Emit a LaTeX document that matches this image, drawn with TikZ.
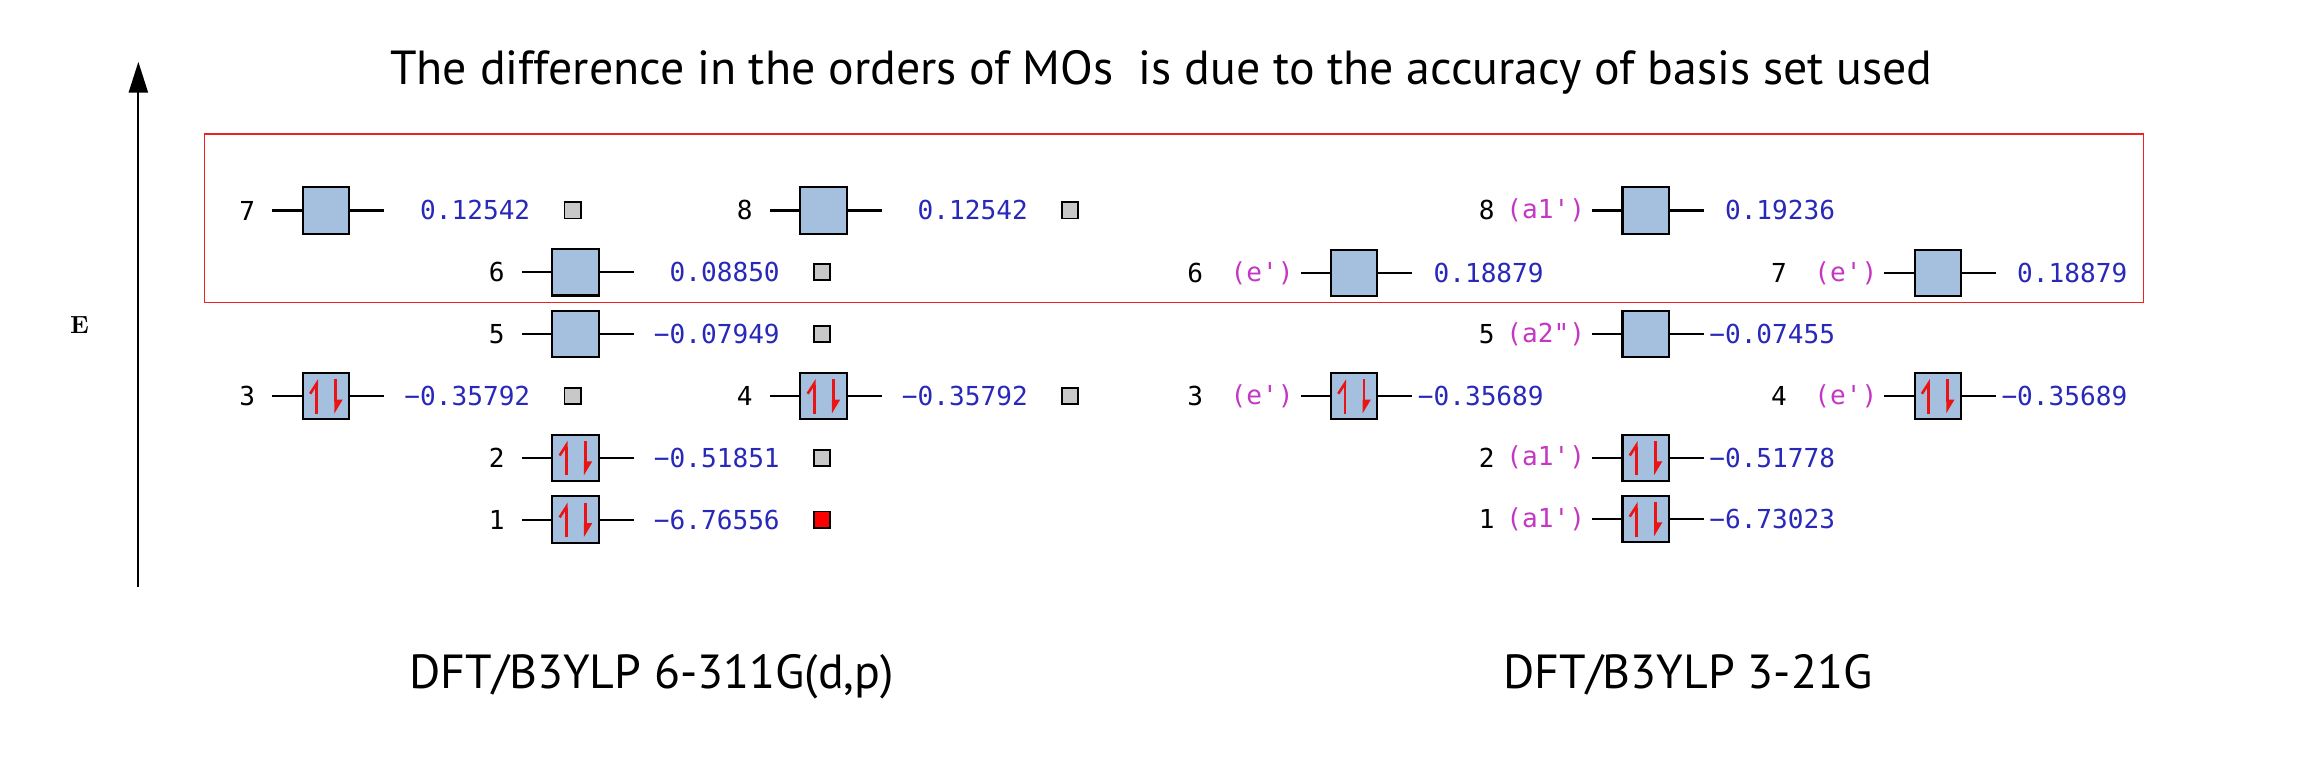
\documentclass[tikz,border=0pt]{standalone}
\usepackage{fontspec}
\newfontfamily\ttlfont{PT Sans}
\newfontfamily\mofont{DejaVu Sans Mono}
\usepackage{xcolor}
\usetikzlibrary{positioning,arrows.meta}

\definecolor{orbfill}{RGB}{164,192,222}
\definecolor{evblue}{RGB}{40,40,185}
\definecolor{symmag}{RGB}{195,55,195}
\definecolor{occgray}{RGB}{200,200,200}
\definecolor{framered}{RGB}{235,35,35}
\definecolor{spinred}{RGB}{235,20,20}

\begin{document}
\begin{tikzpicture}[x=0.02cm,y=-0.02cm,thick,
  orb/.style={draw,line width=0.8pt,fill=orbfill,minimum width=0.63cm,minimum height=0.63cm,inner sep=0pt},
  occ/.style={orb,path picture={
      \draw[spinred,line width=1pt,-{Straight Barb[left,length=0.14cm,width=0.18cm]}]
        ([xshift=-0.126cm,yshift=-0.24cm]path picture bounding box.center) -- ++(0cm,0.47cm);
      \draw[spinred,line width=1pt,-{Triangle[left,length=0.16cm,width=0.18cm]}]
        ([xshift=0.132cm,yshift=0.23cm]path picture bounding box.center) -- ++(0cm,-0.47cm);}},
  lvl/.style={line width=0.8pt},
  idx/.style={font=\mofont\fontsize{10.1}{12}\selectfont,inner sep=0pt},
  sym/.style={idx,text=symmag},
  ev/.style={idx,text=evblue,anchor=east},
  sq/.style={draw,line width=0.7pt,fill=occgray,minimum size=0.22cm,inner sep=0pt},
  ttl/.style={font=\ttlfont\fontsize{18.5}{22}\selectfont,inner sep=0pt,anchor=base},
  axis/.style={line width=0.8pt,-{Triangle[length=0.42cm,width=0.26cm]}},
  frame/.style={framered,line width=0.5pt}]

\useasboundingbox (0,0) rectangle (1568,527);

\node[ttl] (title) at (789,57.7) {The difference in the orders of MOs~ is due to the accuracy of basis set used};

% energy axis
\coordinate (etop) at (94,42);
\coordinate (ebot) at (94,399);
\draw[axis] (ebot) -- (etop);
\node[font=\bfseries\fontsize{9.6}{11}\selectfont,inner sep=0pt] (elab) at (54,221) {E};

\draw[frame] (139,91) rectangle (1456,205.5);

% 6-311G(d,p)
\node[orb] (b7) at (221.5,143) {};
\node[orb] (b8) at (559.5,143) {};
\node[orb] (b6) at (391,185) {};
\node[orb] (b5) at (391,227) {};
\node[occ] (b3) at (221.5,269) {};
\node[occ] (b4) at (559.5,269) {};
\node[occ] (b2) at (391,311) {};
\node[occ] (b1) at (391,353) {};

\draw[lvl] (b7.west) -- ++(-0.4cm,0cm) (b7.east) -- ++(0.46cm,0cm);
\draw[lvl] (b8.west) -- ++(-0.4cm,0cm) (b8.east) -- ++(0.46cm,0cm);
\draw[lvl] (b6.west) -- ++(-0.4cm,0cm) (b6.east) -- ++(0.46cm,0cm);
\draw[lvl] (b5.west) -- ++(-0.4cm,0cm) (b5.east) -- ++(0.46cm,0cm);
\draw[lvl] (b3.west) -- ++(-0.4cm,0cm) (b3.east) -- ++(0.46cm,0cm);
\draw[lvl] (b4.west) -- ++(-0.4cm,0cm) (b4.east) -- ++(0.46cm,0cm);
\draw[lvl] (b2.west) -- ++(-0.4cm,0cm) (b2.east) -- ++(0.46cm,0cm);
\draw[lvl] (b1.west) -- ++(-0.4cm,0cm) (b1.east) -- ++(0.46cm,0cm);

\node[idx,left=0.62cm of b7] (n7) {7};
\node[idx,left=0.62cm of b8] (n8) {8};
\node[idx,left=0.62cm of b6] (n6) {6};
\node[idx,left=0.62cm of b5] (n5) {5};
\node[idx,left=0.62cm of b3] (n3) {3};
\node[idx,left=0.62cm of b4] (n4) {4};
\node[idx,left=0.62cm of b2] (n2) {2};
\node[idx,left=0.62cm of b1] (n1) {1};

\node[ev] (v7) at ([xshift=2.46cm]b7.east) {0.12542};
\node[ev] (v8) at ([xshift=2.46cm]b8.east) {0.12542};
\node[ev] (v6) at ([xshift=2.46cm]b6.east) {0.08850};
\node[ev] (v5) at ([xshift=2.46cm]b5.east) {−0.07949};
\node[ev] (v3) at ([xshift=2.46cm]b3.east) {−0.35792};
\node[ev] (v4) at ([xshift=2.46cm]b4.east) {−0.35792};
\node[ev] (v2) at ([xshift=2.46cm]b2.east) {−0.51851};
\node[ev] (v1) at ([xshift=2.46cm]b1.east) {−6.76556};

\node[sq,right=2.9cm of b7] (s7) {};
\node[sq,right=2.9cm of b8] (s8) {};
\node[sq,right=2.9cm of b6] (s6) {};
\node[sq,right=2.9cm of b5] (s5) {};
\node[sq,right=2.9cm of b3] (s3) {};
\node[sq,right=2.9cm of b4] (s4) {};
\node[sq,right=2.9cm of b2] (s2) {};
\node[sq,right=2.9cm of b1,fill=red] (s1) {};

% 3-21G
\node[orb] (c8) at (1118,143) {};
\node[orb] (c6) at (920,185.5) {};
\node[orb] (c7) at (1316.5,185.5) {};
\node[orb] (c5) at (1118,227) {};
\node[occ] (c3) at (920,269) {};
\node[occ] (c4) at (1316.5,269) {};
\node[occ] (c2) at (1118,311) {};
\node[occ] (c1) at (1118,352.5) {};

\draw[lvl] (c8.west) -- ++(-0.4cm,0cm) (c8.east) -- ++(0.46cm,0cm);
\draw[lvl] (c6.west) -- ++(-0.4cm,0cm) (c6.east) -- ++(0.46cm,0cm);
\draw[lvl] (c7.west) -- ++(-0.4cm,0cm) (c7.east) -- ++(0.46cm,0cm);
\draw[lvl] (c5.west) -- ++(-0.4cm,0cm) (c5.east) -- ++(0.46cm,0cm);
\draw[lvl] (c3.west) -- ++(-0.4cm,0cm) (c3.east) -- ++(0.46cm,0cm);
\draw[lvl] (c4.west) -- ++(-0.4cm,0cm) (c4.east) -- ++(0.46cm,0cm);
\draw[lvl] (c2.west) -- ++(-0.4cm,0cm) (c2.east) -- ++(0.46cm,0cm);
\draw[lvl] (c1.west) -- ++(-0.4cm,0cm) (c1.east) -- ++(0.46cm,0cm);

\node[idx,left=1.71cm of c8] (m8) {8};
\node[idx,left=1.71cm of c6] (m6) {6};
\node[idx,left=1.71cm of c7] (m7) {7};
\node[idx,left=1.71cm of c5] (m5) {5};
\node[idx,left=1.71cm of c3] (m3) {3};
\node[idx,left=1.71cm of c4] (m4) {4};
\node[idx,left=1.71cm of c2] (m2) {2};
\node[idx,left=1.71cm of c1] (m1) {1};

\node[sym,left=0.48cm of c8] (t8) {(a1\textquotesingle)};
\node[sym,left=0.48cm of c6] (t6) {(e\textquotesingle)};
\node[sym,left=0.48cm of c7] (t7) {(e\textquotesingle)};
\node[sym,left=0.48cm of c5] (t5) {(a2\textquotedbl)};
\node[sym,left=0.48cm of c3] (t3) {(e\textquotesingle)};
\node[sym,left=0.48cm of c4] (t4) {(e\textquotesingle)};
\node[sym,left=0.48cm of c2] (t2) {(a1\textquotesingle)};
\node[sym,left=0.48cm of c1] (t1) {(a1\textquotesingle)};

\node[ev] (w8) at ([xshift=2.26cm]c8.east) {0.19236};
\node[ev] (w6) at ([xshift=2.26cm]c6.east) {0.18879};
\node[ev] (w7) at ([xshift=2.26cm]c7.east) {0.18879};
\node[ev] (w5) at ([xshift=2.26cm]c5.east) {−0.07455};
\node[ev] (w3) at ([xshift=2.26cm]c3.east) {−0.35689};
\node[ev] (w4) at ([xshift=2.26cm]c4.east) {−0.35689};
\node[ev] (w2) at ([xshift=2.26cm]c2.east) {−0.51778};
\node[ev] (w1) at ([xshift=2.26cm]c1.east) {−6.73023};

\node[ttl] (basis1) at (442.7,467.6) {DFT/B3YLP 6-311G(d,p)};
\node[ttl] (basis2) at (1146.8,467.6) {DFT/B3YLP 3-21G};
\end{tikzpicture}
\end{document}
